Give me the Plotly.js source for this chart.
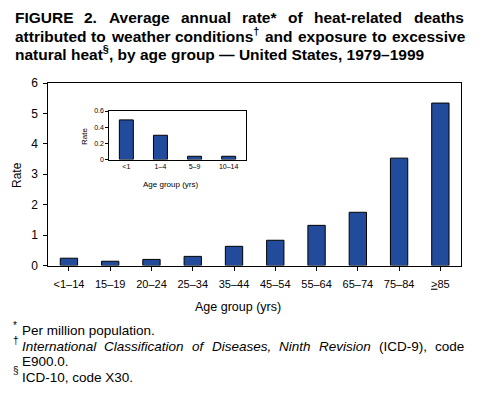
<!DOCTYPE html>
<html>
<head>
<meta charset="utf-8">
<script src="https://cdn.plot.ly/plotly-3.0.1.min.js"></script>
<style>html,body{margin:0;padding:0;background:#fff;}#chart{width:483px;height:396px;}</style>
</head>
<body>
<div id="chart"></div>
<script>
// Main chart data
const ageGroups = ['<1–14','15–19','20–24','25–34','35–44','45–54','55–64','65–74','75–84','≥85'];
const ageTickLabels = ['<1–14','15–19','20–24','25–34','35–44','45–54','55–64','65–74','75–84','<u>></u>85'];
const rates = [0.24, 0.14, 0.20, 0.30, 0.63, 0.83, 1.32, 1.75, 3.53, 5.34];
const yTicks = [0, 1, 2, 3, 4, 5, 6];

// Inset data (children)
const childGroups = ['<1', '1–4', '5–9', '10–14'];
const childRates = [0.49, 0.30, 0.04, 0.04];
const insetYTicks = [0, 0.2, 0.4, 0.6];
const insetYTickLabels = ['0', '0.2', '0.4', '0.6'];

// Texts
const titleLine1 = 'FIGURE 2. Average annual rate* of heat-related deaths';
const titleLine2 = 'attributed to weather conditions<sup>†</sup> and exposure to excessive';
const titleLine3 = 'natural heat<sup>§</sup>, by age group — United States, 1979–1999';
const foot1 = 'Per million population.';
const foot2 = '<i>International</i> <i>Classification</i> <i>of</i> <i>Diseases,</i> <i>Ninth</i> <i>Revision</i> (ICD-9), code';
const foot3 = 'E900.0.';
const foot4 = 'ICD-10, code X30.';

const FONT = 'Liberation Sans, Arial, Helvetica, sans-serif';
const BAR = '#234b9b';

const W = 483, H = 396;
const px = x => x / W;
const py = y => (H - y) / H;

// text measurement for justified lines
const ctx = document.createElement('canvas').getContext('2d');
function measure(html, size, bold) {
  let w = 0, sup = false, it = false;
  html.split(/(<\/?(?:sup|i|b)>)/).forEach(tok => {
    if (tok === '<sup>') sup = true; else if (tok === '</sup>') sup = false;
    else if (tok === '<i>') it = true; else if (tok === '</i>') it = false;
    else if (tok === '<b>' || tok === '</b>') {}
    else if (tok) {
      const s = sup ? size * 0.7 : size;
      ctx.font = (it ? 'italic ' : '') + (bold ? 'bold ' : '') + s + "px 'Liberation Sans', Arial, sans-serif";
      w += ctx.measureText(tok).width;
    }
  });
  return w;
}
function justify(line, x0, x1, yBottom, size, bold) {
  const words = line.split(' ');
  const widths = words.map(w => measure(w, size, bold));
  const total = widths.reduce((a, b) => a + b, 0);
  const gap = (x1 - x0 - total) / (words.length - 1);
  let x = x0;
  return words.map((w, i) => {
    const a = {text: bold ? '<b>' + w + '</b>' : w, x: px(x), y: py(yBottom), xanchor: 'left', yanchor: 'bottom', font: {size: size}};
    x += widths[i] + gap;
    return a;
  });
}

const traces = [
  {
    type: 'bar', x: ageGroups, y: rates, xaxis: 'x', yaxis: 'y',
    width: 0.42,
    marker: {color: BAR, line: {color: '#000', width: 1}},
    hoverinfo: 'none'
  },
  {
    type: 'bar', x: childGroups, y: childRates, xaxis: 'x2', yaxis: 'y2',
    width: 0.41,
    marker: {color: BAR, line: {color: '#000', width: 1}},
    hoverinfo: 'none'
  }
];

const TS = 15.5;
let annotations = [].concat(
  justify(titleLine1, 12.5, 461.5, 28, TS, true),
  justify(titleLine2, 12.5, 463.5, 46.8, TS, true),
  [{text: '<b>' + titleLine3 + '</b>', x: px(12.5), y: py(65.3), xanchor: 'left', yanchor: 'bottom', font: {size: TS}}],
  [
    {text: 'Rate', x: px(17), y: py(175), xanchor: 'center', yanchor: 'middle', textangle: -90, font: {size: 12}},
    {text: 'Age group (yrs)', x: px(237.5), y: py(307), xanchor: 'center', yanchor: 'middle', font: {size: 12.5}},
    {text: 'Rate', x: px(85), y: py(137), xanchor: 'center', yanchor: 'middle', textangle: -90, font: {size: 8}},
    {text: 'Age group (yrs)', x: px(170), y: py(184), xanchor: 'center', yanchor: 'middle', font: {size: 8}},
    {text: '*', x: px(11), y: py(325), xanchor: 'left', yanchor: 'middle', font: {size: 10}},
    {text: foot1, x: px(20), y: py(330), xanchor: 'left', yanchor: 'middle', font: {size: 13.5}},
    {text: '†', x: px(11), y: py(340), xanchor: 'left', yanchor: 'middle', font: {size: 10}},
    {text: foot3, x: px(20), y: py(361.5), xanchor: 'left', yanchor: 'middle', font: {size: 13.5}},
    {text: '§', x: px(11), y: py(370), xanchor: 'left', yanchor: 'middle', font: {size: 10}},
    {text: foot4, x: px(20), y: py(377), xanchor: 'left', yanchor: 'middle', font: {size: 13.5}}
  ],
  justify(foot2, 20, 462, 355.5, 13.5, false)
).map(a => Object.assign({xref: 'paper', yref: 'paper', showarrow: false}, a, {font: Object.assign({family: FONT, color: '#000'}, a.font)}));

const layout = {
  width: W, height: H,
  margin: {l: 0, r: 0, t: 0, b: 0},
  paper_bgcolor: '#fff', plot_bgcolor: 'rgba(0,0,0,0)',
  showlegend: false,
  font: {family: FONT, color: '#000'},
  xaxis: {
    domain: [px(48.3), px(461)], type: 'category', range: [-0.5, 9.5],
    tickvals: ageGroups, ticktext: ageTickLabels,
    showline: true, linecolor: '#000', linewidth: 1, mirror: true,
    ticks: 'outside', ticklen: 4, tickcolor: '#000', tickwidth: 1,
    ticklabelstandoff: 4,
    showgrid: false, zeroline: false, tickfont: {size: 11, family: FONT},
    fixedrange: true
  },
  yaxis: {
    domain: [py(265.5), py(83)], range: [0, 6],
    tickvals: yTicks,
    showline: true, linecolor: '#000', linewidth: 1, mirror: true,
    ticks: 'outside', ticklen: 4, tickcolor: '#000', tickwidth: 1,
    ticklabelstandoff: 3,
    showgrid: false, zeroline: false, tickfont: {size: 12, family: FONT},
    fixedrange: true
  },
  xaxis2: {
    domain: [px(109.3), px(245.7)], type: 'category', range: [-0.5, 3.5],
    anchor: 'y2',
    showline: true, linecolor: '#000', linewidth: 1, mirror: true,
    ticks: '', showgrid: false, zeroline: false,
    tickfont: {size: 7, family: FONT}, fixedrange: true
  },
  yaxis2: {
    domain: [py(159.5), py(111)], range: [0, 0.6], anchor: 'x2',
    tickvals: insetYTicks, ticktext: insetYTickLabels,
    showline: true, linecolor: '#000', linewidth: 1, mirror: true,
    ticks: 'outside', ticklen: 3, tickcolor: '#000', tickwidth: 1,
    showgrid: false, zeroline: false, tickfont: {size: 7, family: FONT},
    fixedrange: true
  },
  annotations: annotations
};

Plotly.newPlot('chart', traces, layout, {displayModeBar: false, staticPlot: true});
</script>
</body>
</html>
